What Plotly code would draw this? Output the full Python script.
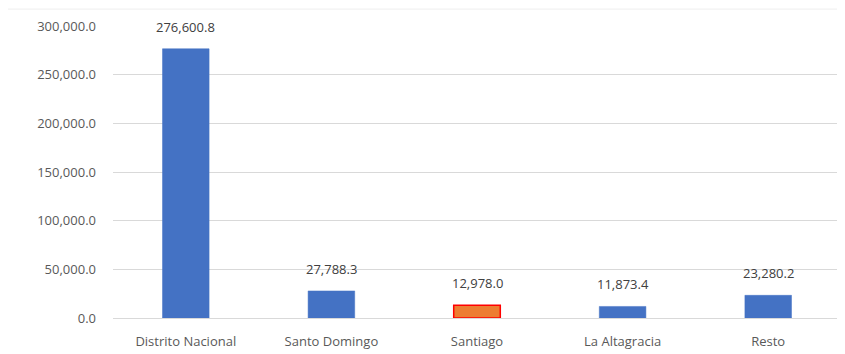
import plotly.graph_objects as go

categories = ["Distrito Nacional", "Santo Domingo", "Santiago", "La Altagracia", "Resto"]
values = [276600.8, 27788.3, 12978.0, 11873.4, 23280.2]
labels = ["276,600.8", "27,788.3", "12,978.0", "11,873.4", "23,280.2"]
tick_vals = [0, 50000, 100000, 150000, 200000, 250000, 300000]
tick_text = ["0.0", "50,000.0", "100,000.0", "150,000.0", "200,000.0", "250,000.0", "300,000.0"]

colors = ["#4472C4", "#4472C4", "#ED7D31", "#4472C4", "#4472C4"]
line_colors = ["#4472C4", "#4472C4", "#FF0000", "#4472C4", "#4472C4"]
line_widths = [0.5, 0.5, 1.5, 0.5, 0.5]

fig = go.Figure(go.Bar(
    x=categories, y=values,
    marker=dict(color=colors, line=dict(color=line_colors, width=line_widths)),
    width=0.32,
))

for c, v, t in zip(categories, values, labels):
    fig.add_annotation(x=c, y=v, text=t, showarrow=False, yanchor="bottom", yshift=11,
                       font=dict(size=13, color="#404040"))

fig.update_layout(
    width=837, height=346,
    margin=dict(l=105, r=4, t=18, b=36),
    paper_bgcolor="white", plot_bgcolor="white",
    font=dict(family="Open Sans, Liberation Sans, sans-serif", size=12, color="#595959"),
    showlegend=False,
    shapes=[dict(type="line", xref="paper", yref="paper", x0=-0.15, x1=1.0, y0=1.058, y1=1.058,
                 line=dict(color="#EEEEEE", width=1))],
)
fig.update_xaxes(showgrid=False, showline=False, ticks="", automargin=False,
                 tickfont=dict(size=13, color="#595959"), ticklabelstandoff=14)
fig.update_yaxes(range=[0, 300000], tickvals=tick_vals, ticktext=tick_text, automargin=False,
                 showgrid=True, gridcolor="#D9D9D9", gridwidth=1, zeroline=True,
                 zerolinecolor="#D9D9D9", zerolinewidth=1,
                 tickfont=dict(size=13, color="#595959"), ticklabelstandoff=16)

fig.write_html("out.html")
